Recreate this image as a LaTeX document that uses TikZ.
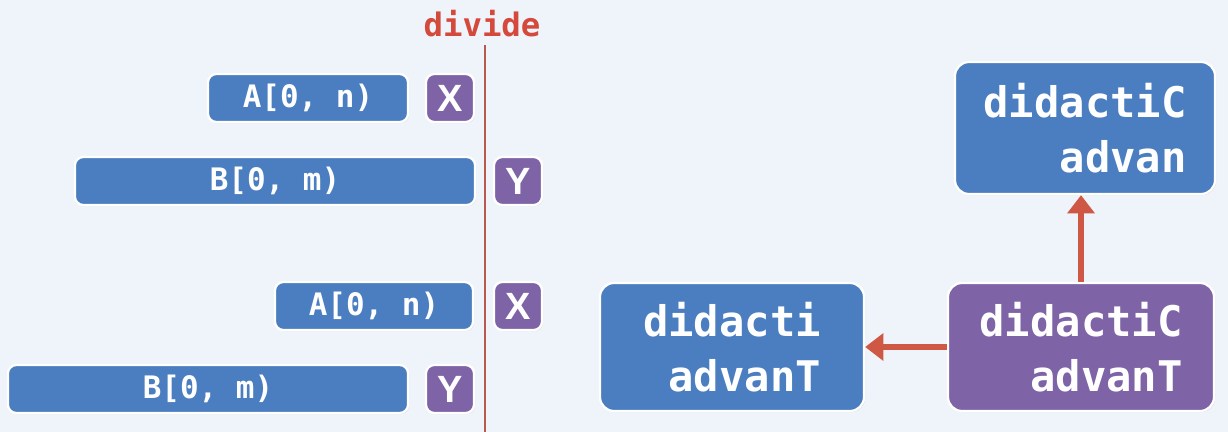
\documentclass[tikz,border=0pt]{standalone}
\usepackage{fontspec}
\setmonofont{DejaVu Sans Mono}
\setsansfont{Liberation Sans}
\usetikzlibrary{positioning,arrows.meta,shadows}

\definecolor{pagebg}{HTML}{EEF4FA}
\definecolor{segblue}{HTML}{4A7EC0}
\definecolor{tagpurple}{HTML}{7E63A6}
\definecolor{cutred}{HTML}{B9584C}
\definecolor{labelred}{HTML}{D5493C}
\definecolor{flowred}{HTML}{CF5844}

\tikzset{
  box/.style={draw=white, line width=1.6pt, text=white,
    drop shadow={opacity=0.2, shadow xshift=0.8pt, shadow yshift=-0.8pt}},
  seg/.style={box, fill=segblue, rounded corners=6pt, minimum height=1.2cm,
    font=\ttfamily\bfseries\fontsize{22}{26}\selectfont},
  tag/.style={box, fill=tagpurple, rounded corners=6pt, minimum width=1.2cm,
    minimum height=1.2cm, inner sep=0pt, font=\sffamily\bfseries\fontsize{27}{30}\selectfont},
  part/.style={box, rounded corners=10pt, minimum height=3.2cm, align=right,
    font=\ttfamily\bfseries\fontsize{30}{39}\selectfont},
  flow/.style={draw=flowred, line width=4pt, -{Triangle[length=13pt,width=19pt]}}
}

\begin{document}
\begin{tikzpicture}[x=0.025cm, y=-0.025cm]
  \fill[pagebg] (0,0) rectangle (1228,432);
  \useasboundingbox (0,0) rectangle (1228,432);

  %cut line
  \node[text=labelred, font=\ttfamily\bfseries\fontsize{23}{26}\selectfont] (divlbl) at (482,24) {divide};
  \coordinate (divtop) at (485,45);
  \coordinate (divbot) at (485,432);
  \draw[cutred, line width=1.6pt] (divtop) -- (divbot);

  %upper pair
  \node[seg, minimum width=5cm] (a1) at (308,98) {A[0, n)};
  \node[tag] (x1) at (450,98) {X};
  \node[seg, minimum width=10cm] (b1) at (275,181) {B[0, m)};
  \node[tag] (y1) at (518,181) {Y};

  %lower pair
  \node[seg, minimum width=4.95cm] (a2) at (374,306) {A[0, n)};
  \node[tag] (x2) at (518,306) {X};
  \node[seg, minimum width=10cm] (b2) at (208,389) {B[0, m)};
  \node[tag] (y2) at (450,389) {Y};

  %result boxes
  \node[part, fill=tagpurple, minimum width=6.65cm] (root) at (1081,347) {didactiC\\advanT};
  \node[part, fill=segblue, minimum width=6.6cm] (left) at (732,347) {didacti\\advanT};
  \node[part, fill=segblue, minimum width=6.5cm, minimum height=3.3cm] (up) at (1085,128) {didactiC\\advan};

  \draw[flow] (root.north) -- (root.north |- up.south);
  \draw[flow] (root.west) -- (left.east);
\end{tikzpicture}
\end{document}
